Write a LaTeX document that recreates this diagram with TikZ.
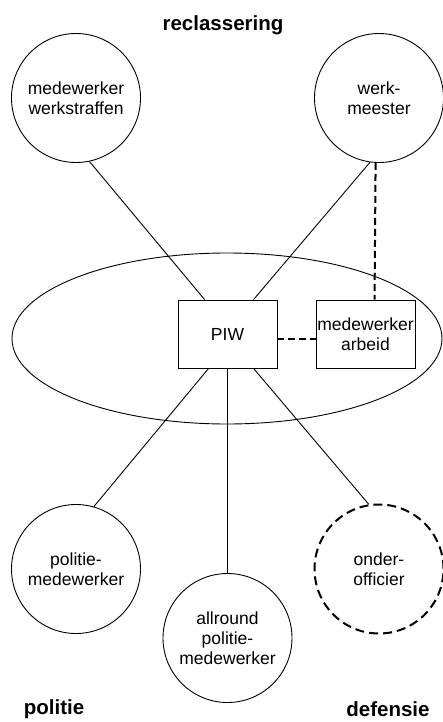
\documentclass[tikz,border=0pt]{standalone}
\usepackage{fontspec}
\setmainfont{Liberation Sans}
\usetikzlibrary{shapes.geometric}
\begin{document}
\begin{tikzpicture}[x=1pt,y=-1pt,
  role/.style={circle,draw,line width=0.9pt,inner sep=0pt,minimum size=129pt,align=center,font=\fontsize{17.5}{20}\selectfont},
  rolebox/.style={rectangle,draw,line width=0.9pt,inner sep=0pt,minimum width=99pt,minimum height=68pt,align=center,font=\fontsize{17.5}{20}\selectfont},
  title/.style={font=\fontsize{20.5}{23}\selectfont\bfseries,inner sep=1pt},
  link/.style={line width=0.9pt},
  dlink/.style={line width=2pt,dash pattern=on 7pt off 4pt}]
\useasboundingbox (0,0) rectangle (442,722);
\node[title] (trec) at (223,25) {reclassering};
\node[title] (tpol) at (54,709) {politie};
\node[title] (tdef) at (388,709) {defensie};
\node[draw,line width=0.9pt,ellipse,minimum width=430pt,minimum height=171pt,inner sep=0pt] (org) at (227,338.5) {};
\node[role] (ws) at (76,98) {medewerker\\werkstraffen};
\node[role] (wm) at (379,98) {werk-\\meester};
\node[rolebox] (piw) at (227.5,334) {PIW};
\node[rolebox] (arb) at (365.5,334) {medewerker\\arbeid};
\node[role] (pm) at (76,569) {politie-\\medewerker};
\node[role] (apm) at (227.5,638) {allround\\politie-\\medewerker};
\node[role,dash pattern=on 9pt off 5pt,line width=2pt] (oo) at (379,569) {onder-\\officier};
\draw[link] (ws.-78) -- ([xshift=27pt]piw.north west);
\draw[link] (wm.-98) -- ([xshift=76pt]piw.north west);
\draw[dlink] (wm.-93.5) -- ([xshift=59pt]arb.north west);
\draw[dlink] ([yshift=-5pt]piw.east) -- ([yshift=-5pt]arb.west);
\draw[link] ([xshift=31pt]piw.south west) -- (pm.74.7);
\draw[link] (piw.south) -- (apm.north);
\draw[link] ([xshift=76pt]piw.south west) -- (oo.99);
\end{tikzpicture}
\end{document}
